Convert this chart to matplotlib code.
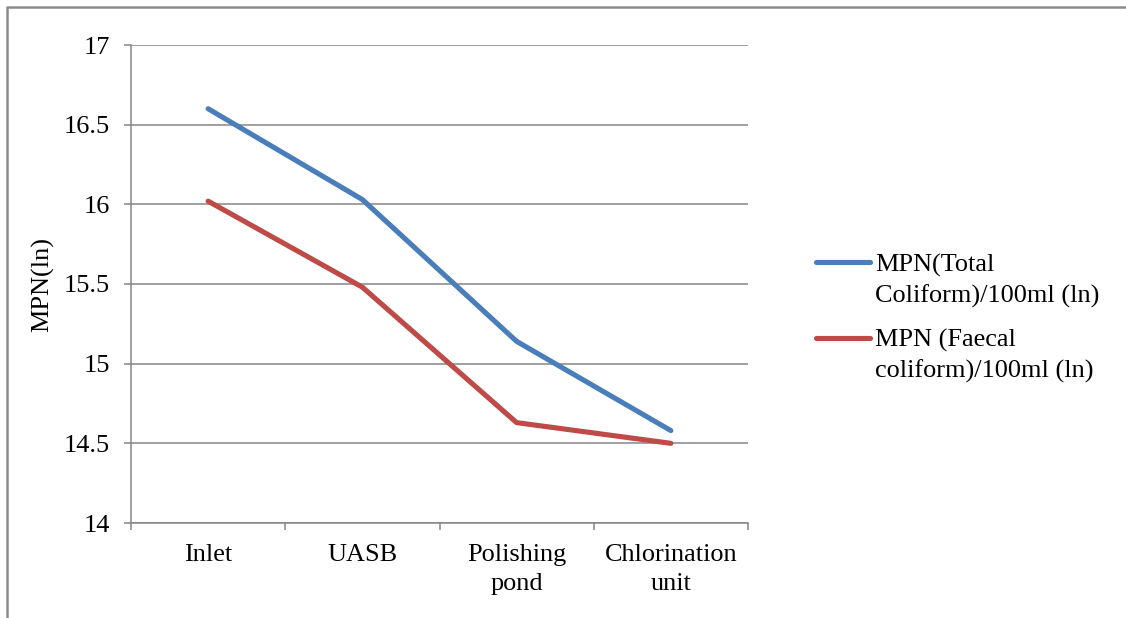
import matplotlib
matplotlib.use("Agg")
import matplotlib.pyplot as plt
from matplotlib.lines import Line2D
from matplotlib.ticker import FixedLocator

# Treatment stages and log-transformed MPN counts
stages = ["Inlet", "UASB", "Polishing\npond", "Chlorination\nunit"]
total_coliform = [16.60, 16.03, 15.14, 14.58]
faecal_coliform = [16.02, 15.48, 14.63, 14.50]
series_labels = ["MPN(Total\nColiform)/100ml (ln)", "MPN (Faecal\ncoliform)/100ml (ln)"]
y_ticks = [14, 14.5, 15, 15.5, 16, 16.5, 17]
y_tick_labels = ["14", "14.5", "15", "15.5", "16", "16.5", "17"]
y_label = "MPN(ln)"

BLUE = "#4A7EBB"
RED = "#BE4B48"
GRID = "#868686"
FS = 18.9
LS = 1.4

W, H = 1126, 618
plt.rcParams["font.family"] = ["Liberation Serif", "DejaVu Serif"]
plt.rcParams["font.size"] = FS

fig = plt.figure(figsize=(W / 100, H / 100), dpi=100)
ax = fig.add_axes([131 / W, 1 - 523 / H, (748 - 131) / W, (523 - 45) / H])

x = list(range(len(stages)))
for vals, col, lab in [(total_coliform, BLUE, series_labels[0]),
                       (faecal_coliform, RED, series_labels[1])]:
    ax.plot(x, vals, color=col, lw=3.7, solid_capstyle="round",
            solid_joinstyle="round", label=lab, zorder=3)

ax.set_xlim(-0.5, len(stages) - 0.5)
ax.set_ylim(y_ticks[0], y_ticks[-1])
ax.set_yticks(y_ticks)
ax.set_yticklabels(y_tick_labels)
ax.set_xticks(x)
ax.set_xticklabels(stages, linespacing=LS)
ax.xaxis.set_minor_locator(FixedLocator([i - 0.5 for i in range(len(stages) + 1)]))

ax.tick_params(axis="x", which="major", length=0, pad=15.4)
ax.tick_params(axis="x", which="minor", length=5, width=1.1, color=GRID, direction="out")
ax.tick_params(axis="y", which="major", length=5, width=1.1, color=GRID,
               direction="out", pad=10)

ax.grid(axis="y", color=GRID, lw=1.1)
ax.set_axisbelow(True)
for side in ("top", "right"):
    ax.spines[side].set_visible(False)
for side in ("left", "bottom"):
    ax.spines[side].set_color(GRID)
    ax.spines[side].set_linewidth(1.1)

ax.set_ylabel(y_label)
ax.yaxis.set_label_coords(-(131 - 43) / (748 - 131), 0.5)
ax.yaxis.label.set_va("center")

# Legend drawn to the right of the plot, each key aligned with the first text line
handles = ax.get_lines()
key_rows = [262.5, 337.5]
for h, row in zip(handles, key_rows):
    fig.add_artist(Line2D([816 / W, 870 / W], [1 - row / H, 1 - row / H],
                          color=h.get_color(), lw=3.7, solid_capstyle="round",
                          transform=fig.transFigure))
    fig.text(875 / W, 1 - (row - 8.5) / H, h.get_label(), ha="left", va="top",
             fontsize=FS, linespacing=LS)

# Outer chart frame (top and left edges)
fig.add_artist(Line2D([7 / W, 7 / W, 1.0], [0.0, 1 - 7 / H, 1 - 7 / H],
                      color="#8c8c8c", lw=1.8, transform=fig.transFigure))

fig.savefig("out.png", dpi=100)
